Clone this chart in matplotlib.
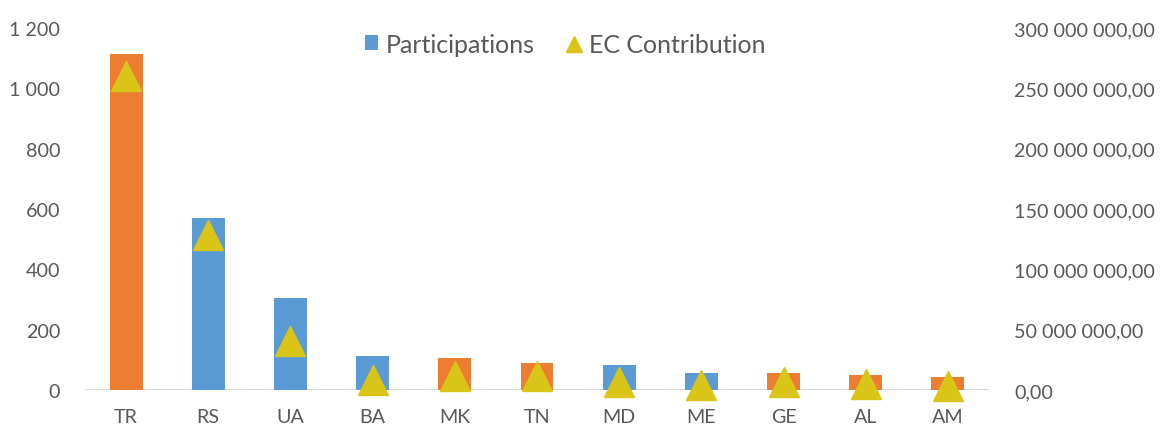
import matplotlib
matplotlib.use("Agg")
import matplotlib.pyplot as plt
from matplotlib.ticker import FuncFormatter
from matplotlib.lines import Line2D
from matplotlib.patches import Patch

plt.rcParams['font.family'] = ['Lato', 'DejaVu Sans']

countries = ["TR", "RS", "UA", "BA", "MK", "TN", "MD", "ME", "GE", "AL", "AM"]
participations = [1115, 570, 306, 114, 106, 90, 83, 57, 56, 50, 43]
ec_contribution = [260e6, 128.5e6, 40.6e6, 8.3e6, 11.9e6, 11.6e6, 6.9e6, 4.1e6, 6.9e6, 4.6e6, 3.1e6]
bar_colors = ["#ED7D31", "#5B9BD5", "#5B9BD5", "#5B9BD5", "#ED7D31", "#ED7D31",
              "#5B9BD5", "#5B9BD5", "#ED7D31", "#ED7D31", "#ED7D31"]
left_ticks = [0, 200, 400, 600, 800, 1000, 1200]
right_ticks = [0, 50e6, 100e6, 150e6, 200e6, 250e6, 300e6]

TXT = "#595959"
fig = plt.figure(figsize=(11.6, 4.31), dpi=100)
ax = fig.add_axes([0.0733, 0.0928, 0.7793, 0.8399])
x = list(range(len(countries)))
ax.bar(x, participations, width=0.4, color=bar_colors, zorder=2)
ax.set_xlim(-0.5, len(countries) - 0.5)
ax.set_ylim(0, 1200)
ax.set_yticks(left_ticks)
ax.yaxis.set_major_formatter(FuncFormatter(lambda v, p: f"{int(v):,}".replace(",", " ")))
ax.set_xticks(x)
ax.set_xticklabels(countries)
for s in ax.spines.values():
    s.set_visible(False)
ax.axhline(0, color="#D9D9D9", lw=1.5, zorder=1)
ax.tick_params(axis="both", length=0, labelsize=14.2, labelcolor=TXT)
ax.tick_params(axis="y", pad=18)
ax.tick_params(axis="x", pad=13)

ax2 = ax.twinx()
ax2.plot(x, ec_contribution, linestyle="none", marker="^", markersize=21.6,
         color="#D8C517", zorder=3, clip_on=False)
ax2.set_ylim(0, 300e6)
ax2.set_yticks(right_ticks)
ax2.yaxis.set_major_formatter(FuncFormatter(lambda v, p: f"{v:,.2f}".replace(",", " ").replace(".", ",")))
for s in ax2.spines.values():
    s.set_visible(False)
ax2.tick_params(axis="y", length=0, labelsize=14.2, labelcolor=TXT, pad=18)

handles = [Patch(facecolor="#5B9BD5", label="Participations"),
           Line2D([], [], linestyle="none", marker="^", markersize=11, color="#D8C517",
                  label="EC Contribution")]
fig.legend(handles=handles, loc="center", bbox_to_anchor=(0.487, 0.895), ncol=2,
           frameon=False, fontsize=18, labelcolor=TXT, handlelength=0.55, handleheight=0.55,
           handletextpad=0.3, columnspacing=1.3)

fig.savefig("out.png", dpi=100)
